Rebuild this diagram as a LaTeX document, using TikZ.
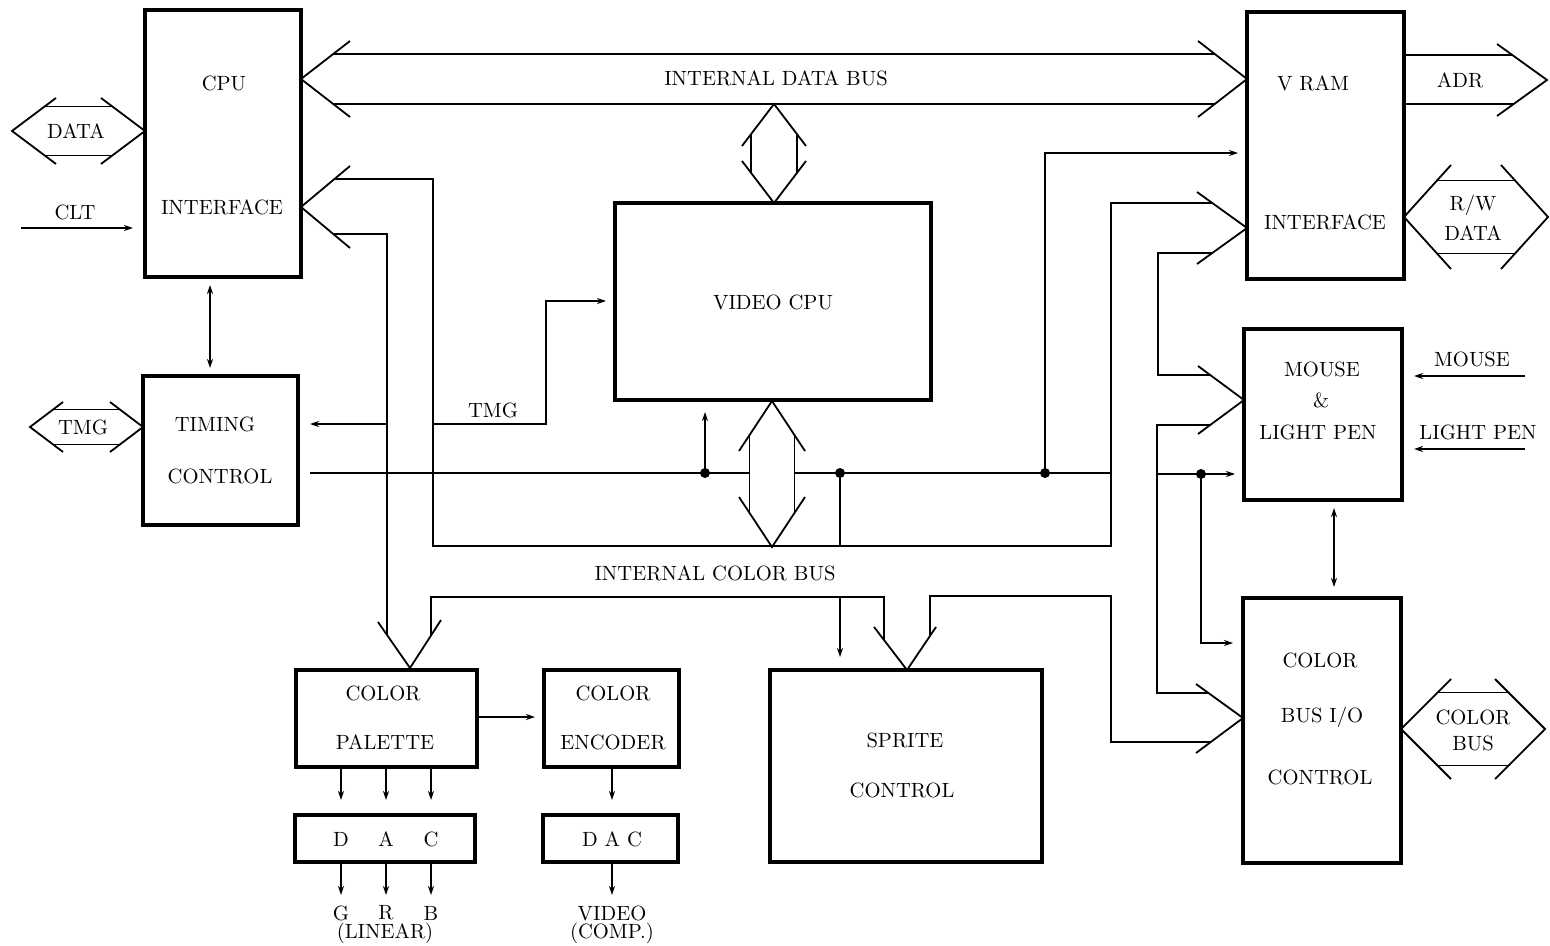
\documentclass[tikz,border=0pt]{standalone}
\usetikzlibrary{arrows.meta,fit}
\newcommand\HBus[6]{%
 \pgfmathsetmacro\busin{#5*#4/#6}%
 \draw[ln] ({#1+#5},{#3-#6}) -- (#1,#3) -- ({#1+#5},{#3+#6});
 \draw[ln] ({#2-#5},{#3-#6}) -- (#2,#3) -- ({#2-#5},{#3+#6});
 \draw[ln] ({#1+\busin},{#3-#4}) -- ({#2-\busin},{#3-#4});
 \draw[ln] ({#1+\busin},{#3+#4}) -- ({#2-\busin},{#3+#4});}
\newcommand\VBus[6]{%
 \pgfmathsetmacro\busin{#6*#4/#5}%
 \draw[ln] ({#3-#5},{#1+#6}) -- (#3,#1) -- ({#3+#5},{#1+#6});
 \draw[ln] ({#3-#5},{#2-#6}) -- (#3,#2) -- ({#3+#5},{#2-#6});
 \draw[ln] ({#3-#4},{#1+\busin}) -- ({#3-#4},{#2-\busin});
 \draw[ln] ({#3+#4},{#1+\busin}) -- ({#3+#4},{#2-\busin});}
\begin{document}
\begin{tikzpicture}[x=0.5pt,y=-0.5pt,
 box/.style={draw, line width=1.6pt, inner sep=0pt, outer sep=0pt},
 ln/.style={line width=0.9pt},
 arr/.style={ln, -{Stealth[length=4.5pt,width=3pt]}},
 darr/.style={ln, {Stealth[length=4.5pt,width=3pt]}-{Stealth[length=4.5pt,width=3pt]}},
 lbl/.style={font=\fontsize{10.3}{12}\selectfont, inner sep=0pt},
 dot/.style={fill, circle, inner sep=0pt, minimum size=5pt}]
\useasboundingbox (0,0) rectangle (1550,946);

% ---------- boxes ----------
\node[box, fit={(145,10)(301,277)}] (cpu) {};
\node[box, fit={(143,376)(298,525)}] (timing) {};
\node[box, fit={(615,203)(931,400)}] (vcpu) {};
\node[box, fit={(1247,12)(1404,279)}] (vram) {};
\node[box, fit={(1244,329)(1402,500)}] (mouse) {};
\node[box, fit={(1243,598)(1401,863)}] (cbio) {};
\node[box, fit={(770,670)(1042,862)}] (sprite) {};
\node[box, fit={(296,670)(477,767)}] (palette) {};
\node[box, fit={(544,670)(679,767)}] (encoder) {};
\node[box, fit={(295,815)(475,862)}] (dac1) {};
\node[box, fit={(543,815)(678,862)}] (dac2) {};

% ---------- labels ----------
\node[lbl] (tcpu) at (224,83) {CPU};
\node[lbl] (tcpuif) at (222,207) {INTERFACE};
\node[lbl] (tdata) at (76,131) {DATA};
\node[lbl] (tclt) at (75,212) {CLT};
\node[lbl] (ttmgl) at (83,427) {TMG};
\node[lbl] (ttim) at (215,424) {TIMING};
\node[lbl] (tctl) at (220,476) {CONTROL};
\node[lbl] (tidb) at (776,78) {INTERNAL DATA BUS};
\node[lbl] (tvcpu) at (773,302) {VIDEO CPU};
\node[lbl] (ttmg) at (493,410) {TMG};
\node[lbl] (ticb) at (715,573) {INTERNAL COLOR BUS};
\node[lbl] (tvram) at (1313,83) {V\,\,RAM};
\node[lbl] (tvramif) at (1325,222) {INTERFACE};
\node[lbl] (tadr) at (1460,80) {ADR};
\node[lbl] (trw) at (1473,205) {R/W};
\node[lbl] (trwd) at (1473,233) {DATA};
\node[lbl] (tm1) at (1322,369) {MOUSE};
\node[lbl] (tm2) at (1321,400) {\&};
\node[lbl] (tm3) at (1318,432) {LIGHT\,\,PEN};
\node[lbl] (tmx) at (1472,359) {MOUSE};
\node[lbl] (tlpx) at (1478,432) {LIGHT PEN};
\node[lbl] (tc1) at (1320,660) {COLOR};
\node[lbl] (tc2) at (1322,717) {BUS I/O};
\node[lbl] (tc3) at (1320,777) {CONTROL};
\node[lbl] (tcb1) at (1473,717) {COLOR};
\node[lbl] (tcb2) at (1473,743) {BUS};
\node[lbl] (ts1) at (905,740) {SPRITE};
\node[lbl] (ts2) at (902,790) {CONTROL};
\node[lbl] (tp1) at (383,693) {COLOR};
\node[lbl] (tp2) at (385,742) {PALETTE};
\node[lbl] (te1) at (613,693) {COLOR};
\node[lbl] (te2) at (613,742) {ENCODER};
\node[lbl] (td1) at (341,839) {D};
\node[lbl] (td2) at (386,839) {A};
\node[lbl] (td3) at (431,839) {C};
\node[lbl] (tdac2) at (612,839) {D\,\,A\,\,C};
\node[lbl] (tg) at (341,913) {G};
\node[lbl] (tr) at (386,913) {R};
\node[lbl] (tb) at (431,913) {B};
\node[lbl] (tlin) at (385,933) {(LINEAR)};
\node[lbl] (tvid) at (612,913) {VIDEO};
\node[lbl] (tcomp) at (612,933) {(COMP.)};

% ---------- hollow bus arrows ----------
\HBus{301}{1247}{79}{25}{49}{38}      % internal data bus
\HBus{12}{145}{131}{24.5}{44}{33}     % DATA
\HBus{30}{143}{427}{17.5}{33}{25}     % TMG
\HBus{1404}{1548}{217}{36.5}{47}{52}  % R/W DATA
\HBus{1401}{1545}{729}{36.5}{50}{50}  % COLOR BUS
\VBus{104}{203}{774}{23}{32}{42}      % data bus <-> video cpu
\VBus{401}{547}{772}{22.5}{33}{50}    % video cpu <-> colour bus
% ADR (single head)
\draw[ln] (1497,44) -- (1547,80) -- (1497,116);
\draw[ln] (1404,55) -- (1513,55);
\draw[ln] (1404,104) -- (1513,104);

% ---------- chevrons into boxes ----------
\draw[ln] (350,166) -- (301,207) -- (350,248);     % CPU interface
\draw[ln] (1197,192) -- (1247,228) -- (1197,264);  % VRAM interface
\draw[ln] (1198,366) -- (1244,400) -- (1198,434);  % mouse
\draw[ln] (1196,684) -- (1243,718) -- (1196,753);  % colour bus I/O
\draw[ln] (874,627) -- (907,670) -- (936,627);     % sprite
\draw[ln] (378,622) -- (410,668) -- (441,620);     % palette

% ---------- bus wiring ----------
\draw[ln] (334,179) -- (433,179) -- (433,546) -- (1111,546) -- (1111,203) -- (1212,203);
\draw[ln] (333,234) -- (387,234) -- (387,635);
\draw[ln] (1212,253) -- (1158,253) -- (1158,375) -- (1210,375);
\draw[ln] (1210,425) -- (1157,425) -- (1157,693) -- (1208,693);
\draw[ln] (1211,742) -- (1111,742) -- (1111,596) -- (930,596) -- (930,636);
\draw[ln] (884,640) -- (884,597) -- (431,597) -- (431,635);

% ---------- signal lines ----------
\draw[arr] (387,424) -- (310,424);
\draw[arr] (433,424) -- (546,424) -- (546,301) -- (606,301);
\draw[ln] (310,473) -- (750,473);
\draw[ln] (795,473) -- (1111,473);
\draw[arr] (1157,474) -- (1235,474);
\node[dot] (d1) at (705,473) {};
\node[dot] (d2) at (840,473) {};
\node[dot] (d3) at (1045,473) {};
\node[dot] (d4) at (1201,474) {};
\draw[arr] (d1.center) -- (705,412);
\draw[ln] (d2.center) -- (840,546);
\draw[arr] (d3.center) -- (1045,153) -- (1238,153);
\draw[arr] (d4.center) -- (1201,643) -- (1233,643);
\draw[arr] (840,597) -- (840,657);

\draw[darr] (210,285) -- (210,368);
\draw[darr] (1334,508) -- (1334,587);
\draw[arr] (21,228) -- (133,228);
\draw[arr] (1525,376) -- (1414,376);
\draw[arr] (1525,449) -- (1414,449);

\draw[arr] (palette.east |- 0,717) -- (535,717);
\foreach \x in {341,386,431} {
  \draw[arr] (\x,767) -- (\x,800);
  \draw[arr] (\x,862) -- (\x,895);
}
\draw[arr] (612,767) -- (612,800);
\draw[arr] (612,862) -- (612,895);
\end{tikzpicture}
\end{document}
